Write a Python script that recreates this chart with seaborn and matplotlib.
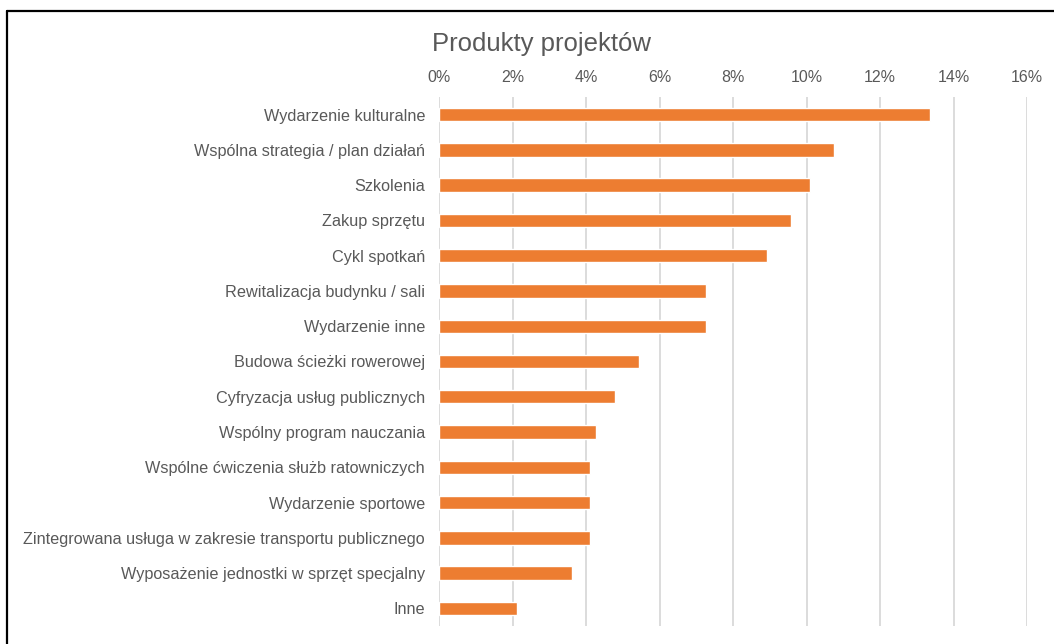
import pandas as pd
import matplotlib as mpl
import matplotlib.pyplot as plt
import seaborn as sns
from matplotlib.ticker import FuncFormatter
from matplotlib.lines import Line2D

categories = [
    "Wydarzenie kulturalne",
    "Wspólna strategia / plan działań",
    "Szkolenia",
    "Zakup sprzętu",
    "Cykl spotkań",
    "Rewitalizacja budynku / sali",
    "Wydarzenie inne",
    "Budowa ścieżki rowerowej",
    "Cyfryzacja usług publicznych",
    "Wspólny program nauczania",
    "Wspólne ćwiczenia służb ratowniczych",
    "Wydarzenie sportowe",
    "Zintegrowana usługa w zakresie transportu publicznego",
    "Wyposażenie jednostki w sprzęt specjalny",
    "Inne",
]
shares = [13.37, 10.76, 10.09, 9.59, 8.92, 7.26, 7.26, 5.44, 4.78, 4.28, 4.11, 4.11, 4.11, 3.61, 2.12]
ticks = [0, 2, 4, 6, 8, 10, 12, 14, 16]

df = pd.DataFrame({"produkt": categories, "udzial": shares})

sns.set_style("white")
plt.rcParams["font.family"] = ["Liberation Sans", "DejaVu Sans"]
mpl.rcParams["axes.unicode_minus"] = False

W, H = 1054, 644
fig = plt.figure(figsize=(W / 100, H / 100), dpi=100)
ax = fig.add_axes([439 / W, 1 - 626 / H, (1027 - 439) / W, (626 - 97) / H])

sns.barplot(data=df, x="udzial", y="produkt", color="#ED7D31", saturation=1,
            width=0.38, ax=ax)

ax.set_xlim(0, 16)
ax.set_xticks(ticks)
ax.xaxis.set_major_formatter(FuncFormatter(lambda v, p: f"{v:.0f}%"))
ax.xaxis.tick_top()
ax.tick_params(axis="x", length=0, pad=9, labelsize=11.5, labelcolor="#595959")
ax.tick_params(axis="y", length=0, pad=10, labelsize=11.7, labelcolor="#595959")
ax.set_xlabel("")
ax.set_ylabel("")
ax.grid(axis="x", color="#d9d9d9", linewidth=1.3)
ax.set_axisbelow(True)
for s in ax.spines.values():
    s.set_visible(False)

fig.text(541 / W, 1 - 44 / H, "Produkty projektów",
         ha="center", va="center", fontsize=18.5, color="#595959")

# ramka wykresu (tylko góra i lewa strona widoczne)
fig.lines.append(Line2D([6.5 / W, 6.5 / W], [0, 1 - 11 / H], transform=fig.transFigure,
                        color="black", linewidth=1.6))
fig.lines.append(Line2D([6.5 / W, 1], [1 - 11 / H, 1 - 11 / H], transform=fig.transFigure,
                        color="black", linewidth=1.6))

fig.savefig("out.png", dpi=100)
